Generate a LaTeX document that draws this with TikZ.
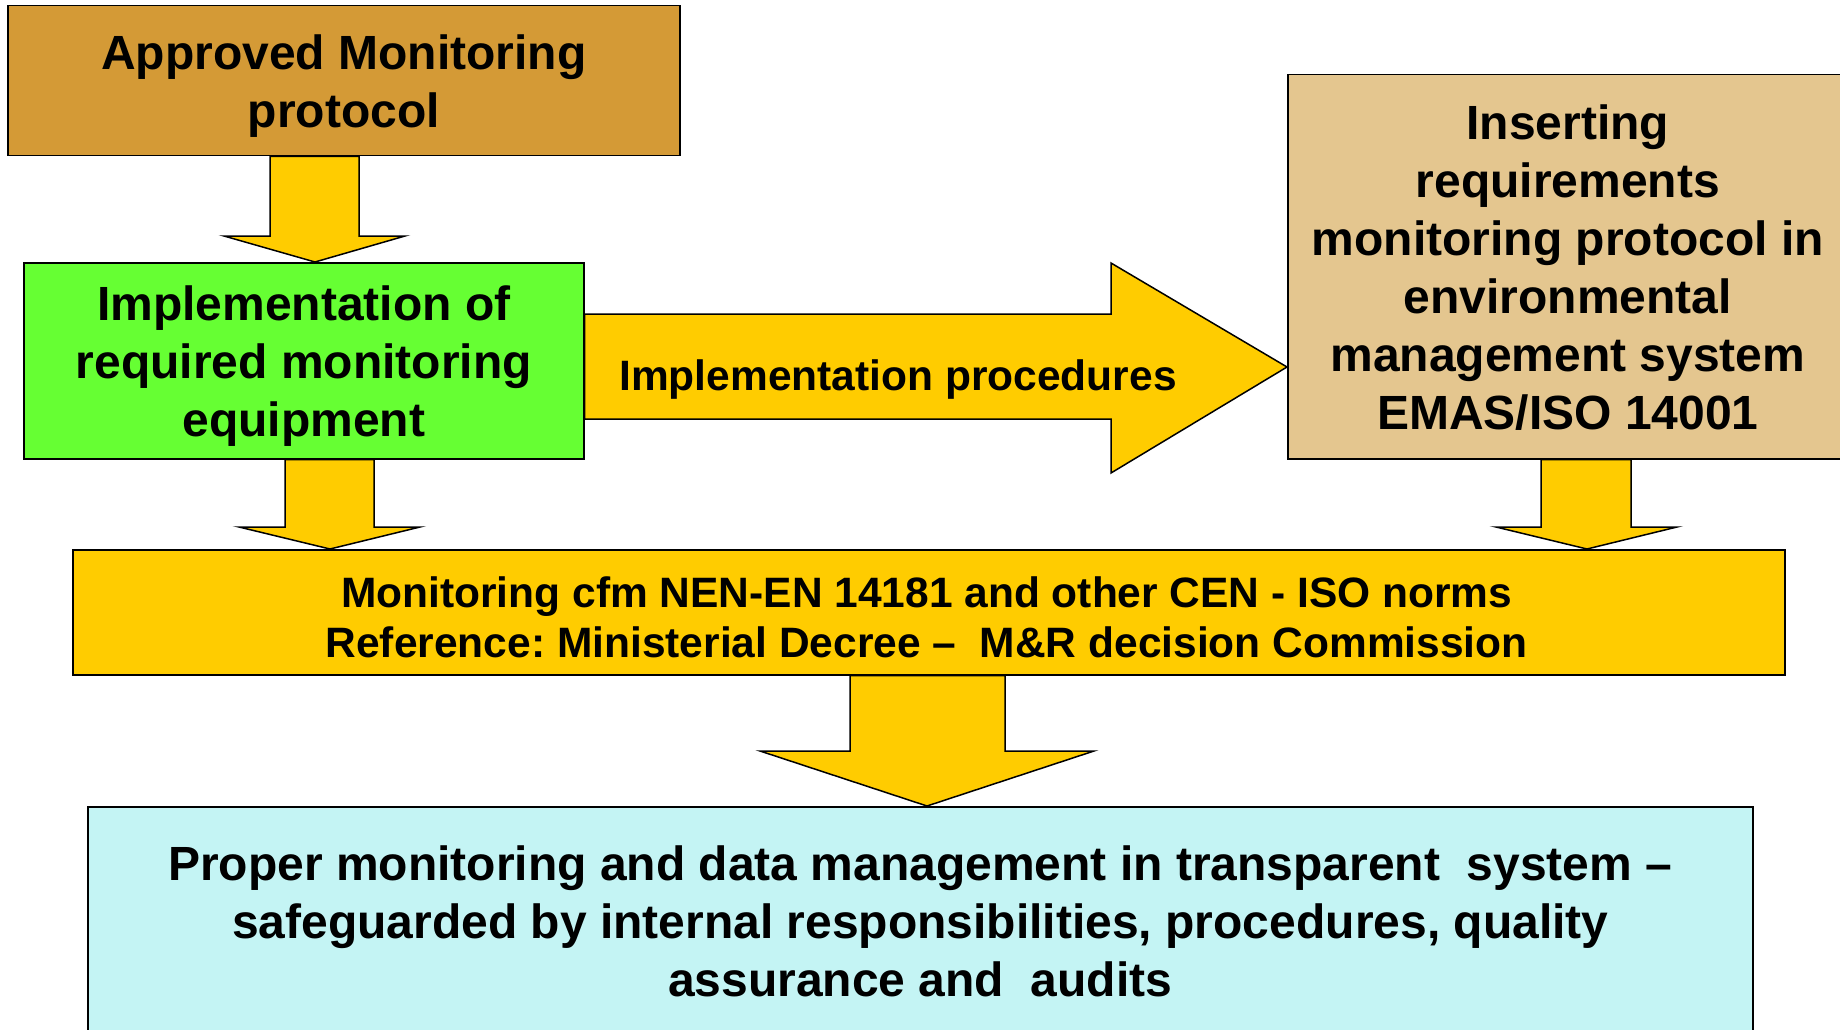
\documentclass[tikz,border=0pt]{standalone}
\usepackage{fontspec}
\setmainfont{Liberation Sans}
\usetikzlibrary{calc,backgrounds}
\definecolor{ochre}{RGB}{212,154,54}
\definecolor{lgreen}{RGB}{102,255,51}
\definecolor{tanbox}{RGB}{228,198,143}
\definecolor{gold}{RGB}{255,204,0}
\definecolor{lcyan}{RGB}{196,244,244}
\frenchspacing
\tikzset{
  box/.style={draw=black, line width=1.5pt, inner sep=0pt, anchor=north west},
  bigtext/.style={align=center, inner sep=0pt, font=\bfseries\fontsize{48}{58}\selectfont},
  midtext/.style={align=center, inner sep=0pt, font=\bfseries\fontsize{42.5}{50.5}\selectfont},
  blockarrow/.style={draw=black, line width=1.5pt, fill=gold, line join=miter}
}
\begin{document}
\begin{tikzpicture}[x=1pt,y=-1pt]
\clip (0,0) rectangle (1840,1030);

\node[box, fill=ochre, minimum width=672pt, minimum height=150pt] (b1) at (7,5) {};
\node[box, fill=lgreen, minimum width=560pt, minimum height=196pt] (b2) at (23,262) {};
\node[box, fill=tanbox, minimum width=560pt, minimum height=384pt] (b3) at (1287,74) {};
\node[box, fill=gold, minimum width=1712pt, minimum height=125pt] (b4) at (72,549) {};
\node[box, fill=lcyan, minimum width=1665pt, minimum height=230pt] (b5) at (87,806) {};

\node[bigtext] (t1) at ($(b1.center)+(0,5)$) {Approved Monitoring\\protocol};
\node[bigtext] (t2) at ($(b2.center)+(0,5)$) {Implementation of\\required monitoring\\equipment};
\node[bigtext] (t3) at ($(b3.center)+(0,1)$)
  {Inserting\\requirements\\monitoring protocol in\\environmental\\management system\\EMAS/ISO 14001};
\node[midtext] (t4) at ($(b4.center)+(-2,5)$)
  {Monitoring cfm NEN-EN 14181 and other CEN - ISO norms\\Reference: Ministerial Decree --\ \ M\&R decision Commission};
\node[bigtext] (t5) at (b5.center)
  {Proper monitoring and data management in transparent\ \ system --\\safeguarded by internal responsibilities, procedures, quality\\assurance and\ \ audits};

\begin{scope}[on background layer]
  \fill[white] (0,0) rectangle (1840,1030);
  % b1 -> b2
  \draw[blockarrow] (270,0 |- b1.south) -- (270,236) -- (224,236) -- (315,0 |- b2.north)
    -- (405,236) -- (359,236) -- (359,0 |- b1.south) -- cycle;
  % b2 -> b4
  \draw[blockarrow] (285,0 |- b2.south) -- (285,527) -- (239,527) -- (330,0 |- b4.north)
    -- (420,527) -- (374,527) -- (374,0 |- b2.south) -- cycle;
  % b3 -> b4
  \draw[blockarrow] (1541,0 |- b3.south) -- (1541,527) -- (1496,527) -- (1587,0 |- b4.north)
    -- (1677,527) -- (1631,527) -- (1631,0 |- b3.south) -- cycle;
  % b2 -> b3
  \draw[blockarrow] (b2.east |- 0,314) -- (1111,314) -- (1111,263) -- (b3.west |- 0,367)
    -- (1111,473) -- (1111,419) -- (b2.east |- 0,419) -- cycle;
  % b4 -> b5
  \draw[blockarrow] (850,0 |- b4.south) -- (850,751) -- (760,751) -- (927,0 |- b5.north)
    -- (1094,751) -- (1005,751) -- (1005,0 |- b4.south) -- cycle;
\end{scope}

\node[midtext] (lab) at (898,380) {Implementation procedures};
\end{tikzpicture}
\end{document}
